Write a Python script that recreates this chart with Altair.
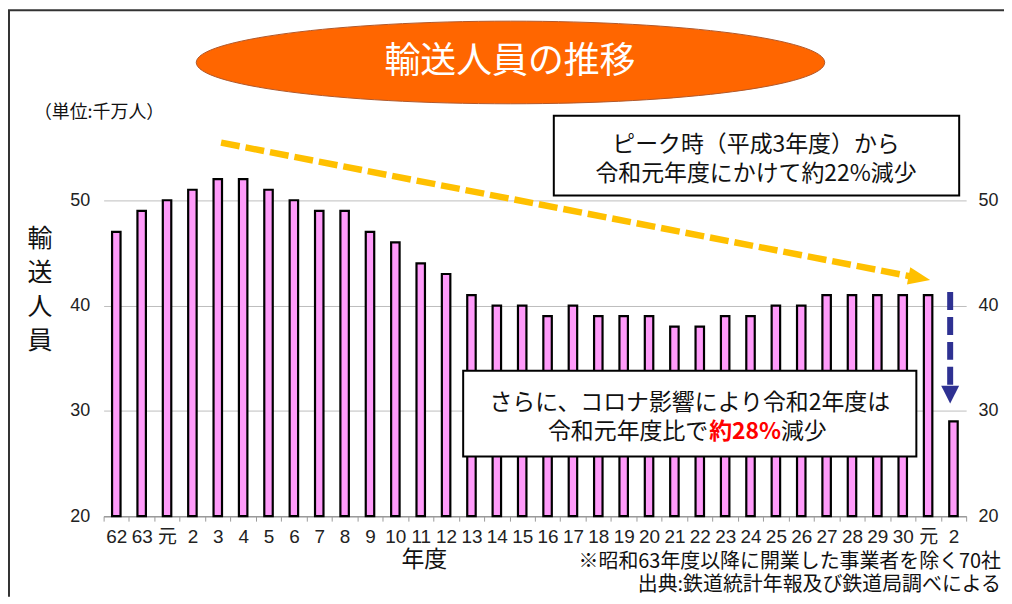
import json
import altair as alt
import pandas as pd

# ---------------- data ----------------
year_labels = ["62", "63", "元", "2", "3", "4", "5", "6", "7", "8", "9", "10",
               "11", "12", "13", "14", "15", "16", "17", "18", "19", "20", "21",
               "22", "23", "24", "25", "26", "27", "28", "29", "30", "元", "2"]
riders = [47, 49, 50, 51, 52, 52, 51, 50, 49, 49, 47, 46, 44, 43, 41, 40, 40,
          39, 40, 39, 39, 39, 38, 38, 39, 39, 40, 40, 41, 41, 41, 41, 41, 29]
y_ticks = [20, 30, 40, 50]

title_text = ["輸送人員の推移"]
unit_text = ["（単位:千万人）"]
ytitle_text = ["輸\n送\n人\n員"]
xtitle_text = ["年度"]
box1_line1 = ["ピーク時（平成3年度）から"]
box1_line2 = ["令和元年度にかけて約22%減少"]
box2_line1 = ["さらに、コロナ影響により令和2年度は"]
box2_seg1 = ["令和元年度比で"]
box2_seg2 = ["約28%"]
box2_seg3 = ["減少"]
note1 = ["※昭和63年度以降に開業した事業者を除く70社"]
note2 = ["出典:鉄道統計年報及び鉄道局調べによる"]

# annotation arrows, in (category position, value) units
peak_x = [4.63, 31.88]
peak_y = [55.47, 42.74]
peak_tip_x = [32.58]
peak_tip_y = [42.42]
covid_x = [33.37, 33.37]
covid_y = [41.28, 32.2]
covid_tip_x = [33.37]
covid_tip_y = [30.69]

# ---------------- layout ----------------
N = len(year_labels)
W, H = 866, 370
FONT = "Noto Sans CJK JP"

df = pd.DataFrame({"idx": list(range(N)), "riders": riders})
ysc = alt.Scale(domain=[20, 55], nice=False, zero=False)
axq = alt.Scale(domain=[0, N], nice=False, zero=False)

label_expr = json.dumps(year_labels, ensure_ascii=False) + "[datum.value]"

x_axis = alt.Axis(title=None, labelExpr=label_expr, labelAngle=0, tickBand="extent",
                  tickSize=5, tickColor="#9A9A9A", domainColor="#9A9A9A", domainWidth=1.5,
                  labelFont="Liberation Sans Narrow, Liberation Sans, Noto Sans CJK JP",
                  labelFontSize=19, labelColor="#222222", labelPadding=6, grid=False)
left_axis = alt.Axis(values=y_ticks, title=None, grid=True, gridColor="#BDBDBD", gridWidth=1,
                     domain=False, ticks=False, labelPadding=14, labelFontSize=18,
                     labelFont="Liberation Sans", labelColor="#222222")
right_axis = alt.Axis(values=y_ticks, title=None, orient="right", grid=False, domain=False,
                      ticks=False, labelPadding=12, labelFontSize=18,
                      labelFont="Liberation Sans", labelColor="#222222")

bars = alt.Chart(df).mark_bar(size=8.5, fill="#FF9BFA", stroke="#000000", strokeWidth=2.2).encode(
    x=alt.X("idx:O", scale=alt.Scale(domain=list(range(N)), paddingInner=0, paddingOuter=0), axis=x_axis),
    y=alt.Y("riders:Q", scale=ysc, axis=left_axis),
    y2=alt.datum(20),
)

right = alt.Chart(df).mark_point(opacity=0).encode(
    y=alt.Y("riders:Q", scale=ysc, axis=right_axis),
)

dummy = pd.DataFrame({"d": [0]})


def text_layer(lines, x, y, size, align="center", color="#111111", weight="normal", baseline="middle", **kw):
    return alt.Chart(pd.DataFrame({"t": lines})).mark_text(
        font=FONT, fontSize=size, align=align, baseline=baseline, color=color,
        fontWeight=weight, **kw
    ).encode(text="t:N", x=alt.value(x), y=alt.value(y))


# frame
frame_top = alt.Chart(dummy).mark_rule(color="#333333", strokeWidth=2).encode(
    x=alt.value(-96), x2=alt.value(904), y=alt.value(-138))
frame_left = alt.Chart(dummy).mark_rule(color="#333333", strokeWidth=2).encode(
    x=alt.value(-95), y=alt.value(-138), y2=alt.value(451))

# title ellipse
b = 0.1315
k = 0.5523
ellipse_path = (f"M -1 0 C -1 {-k*b:.4f} {-k:.4f} {-b} 0 {-b} "
                f"C {k:.4f} {-b} 1 {-k*b:.4f} 1 0 "
                f"C 1 {k*b:.4f} {k:.4f} {b} 0 {b} "
                f"C {-k:.4f} {b} -1 {k*b:.4f} -1 0 Z")
ellipse = alt.Chart(dummy).mark_point(shape=ellipse_path, size=631 ** 2, filled=True, fill="#FF6600",
                                      stroke="#B0582A", strokeWidth=1, opacity=1).encode(
    x=alt.value(408.5), y=alt.value(-85.5))
title = text_layer(title_text, 408, -86, 36, color="#FFFFFF")

unit = text_layer(unit_text, -70, -35, 18, align="left")
ytitle = text_layer(ytitle_text, -64, 80, 25, baseline="top", lineBreak="\n", lineHeight=34)
xtitle = text_layer(xtitle_text, 322, 414, 23)
n1 = text_layer(note1, 901, 416, 20, align="right")
n2 = text_layer(note2, 901, 439, 20, align="right")

# peak arrow (yellow)
peak_line = alt.Chart(pd.DataFrame({"ax": peak_x, "ay": peak_y})).mark_line(
    color="#FFC000", strokeWidth=6.5, strokeDash=[19, 6]).encode(
    x=alt.X("ax:Q", scale=axq, axis=None), y=alt.Y("ay:Q", scale=ysc, axis=None))
peak_head = alt.Chart(pd.DataFrame({"ax": peak_tip_x, "ay": peak_tip_y})).mark_point(
    shape="M 0 0 L -2 -0.8 L -2 0.8 Z", size=484, angle=11, filled=True, color="#FFC000",
    opacity=1, strokeWidth=0).encode(
    x=alt.X("ax:Q", scale=axq, axis=None), y=alt.Y("ay:Q", scale=ysc, axis=None))

# covid arrow (blue)
covid_line = alt.Chart(pd.DataFrame({"ax": covid_x, "ay": covid_y, "o": [0, 1]})).mark_line(
    color="#2E3192", strokeWidth=6, strokeDash=[18, 7]).encode(
    x=alt.X("ax:Q", scale=axq, axis=None), y=alt.Y("ay:Q", scale=ysc, axis=None),
    order=alt.Order("o:Q"))
covid_head = alt.Chart(pd.DataFrame({"ax": covid_tip_x, "ay": covid_tip_y})).mark_point(
    shape="M 0 0 L -1 -2 L 1 -2 Z", size=324, filled=True, color="#2E3192",
    opacity=1, strokeWidth=0).encode(
    x=alt.X("ax:Q", scale=axq, axis=None), y=alt.Y("ay:Q", scale=ysc, axis=None))

# boxes
box1 = alt.Chart(dummy).mark_rect(fill="#FFFFFF", stroke="#000000", strokeWidth=2).encode(
    x=alt.value(452), x2=alt.value(859), y=alt.value(-32), y2=alt.value(48))
b1l1 = text_layer(box1_line1, 655, -3, 23)
b1l2 = text_layer(box1_line2, 655, 27, 23)

box2 = alt.Chart(dummy).mark_rect(fill="#FFFFFF", stroke="#000000", strokeWidth=2).encode(
    x=alt.value(361), x2=alt.value(816), y=alt.value(224), y2=alt.value(310))
b2l1 = text_layer(box2_line1, 588.5, 256, 23)
b2s1 = text_layer(box2_seg1, 607, 286, 23, align="right")
b2s2 = text_layer(box2_seg2, 608, 286, 23, align="left", color="#FF0000", weight="bold")
b2s3 = text_layer(box2_seg3, 680, 286, 23, align="left")

chart = alt.layer(
    bars, right, frame_top, frame_left, ellipse, title, unit, ytitle, xtitle, n1, n2,
    peak_line, peak_head, covid_line, covid_head, box1, b1l1, b1l2, box2, b2l1, b2s1, b2s2, b2s3,
).resolve_scale(x="independent").resolve_axis(y="independent").properties(
    width=W, height=H,
    autosize=alt.AutoSizeParams(type="none"),
    padding={"left": 96, "top": 139, "right": 38, "bottom": 81},
    background="#FFFFFF",
).configure(font=FONT).configure_view(strokeWidth=0)

chart.save("out.html", embed_options={"renderer": "svg", "actions": False})
